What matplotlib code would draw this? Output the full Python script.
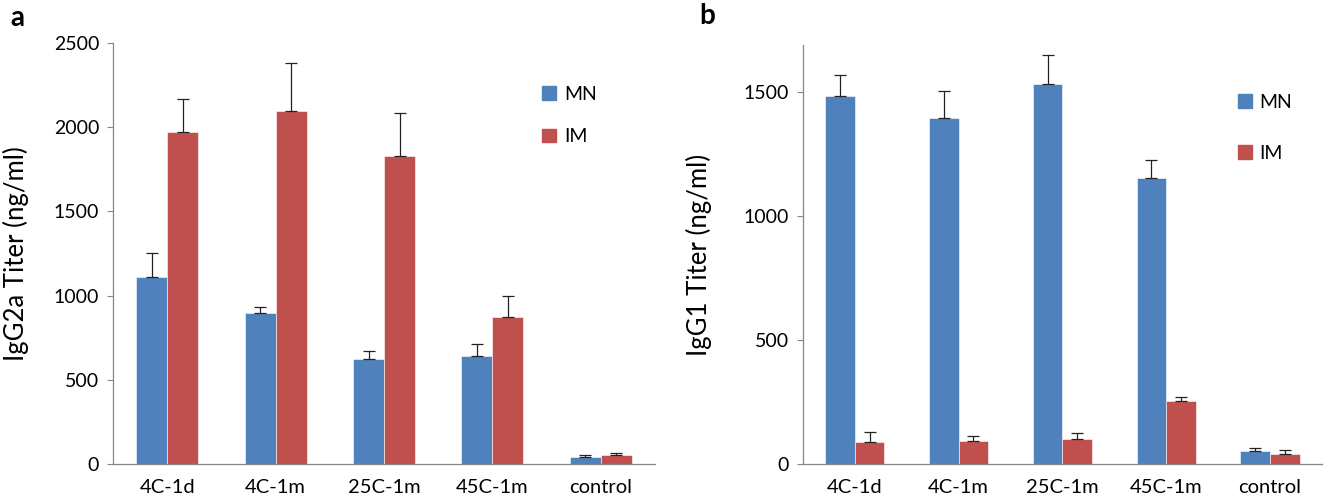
import numpy as np
import matplotlib.pyplot as plt
from matplotlib.patches import Patch

plt.rcParams['font.family'] = ['Lato', 'DejaVu Sans']

# data
groups = ['4C-1d', '4C-1m', '25C-1m', '45C-1m', 'control']

igg2a_mn = [1108, 896, 626, 642, 39]
igg2a_mn_err = [146, 35, 47, 71, 16]
igg2a_im = [1974, 2094, 1827, 876, 55]
igg2a_im_err = [195, 286, 260, 122, 10]

igg1_mn = [1485, 1396, 1533, 1153, 54]
igg1_mn_err = [85, 111, 117, 74, 12]
igg1_im = [90, 94, 102, 255, 39]
igg1_im_err = [38, 20, 21, 17, 16]

blue = '#4F81BD'
red = '#C0504D'
axis_grey = '#868686'
w = 1 / 3.5


def panel(ax, mn, mn_err, im, im_err, ylim, yticks, ylabel, letter, leg_anchor, leg_space):
    x = np.arange(len(groups))
    ax.bar(x - w / 2, mn, w, color=blue, edgecolor='white', linewidth=0.4,
           yerr=[np.zeros(len(mn)), mn_err], capsize=4,
           error_kw=dict(elinewidth=0.9, capthick=0.9, ecolor='#222222'))
    ax.bar(x + w / 2, im, w, color=red, edgecolor='white', linewidth=0.4,
           yerr=[np.zeros(len(im)), im_err], capsize=4,
           error_kw=dict(elinewidth=0.9, capthick=0.9, ecolor='#222222'))
    ax.set_xlim(-0.5, len(groups) - 0.5)
    ax.set_ylim(*ylim)
    ax.set_yticks(yticks)
    ax.set_xticks(x)
    ax.set_xticklabels(groups)
    for s in ['top', 'right']:
        ax.spines[s].set_visible(False)
    for s in ['left', 'bottom']:
        ax.spines[s].set_color(axis_grey)
        ax.spines[s].set_linewidth(0.9)
    ax.tick_params(axis='y', length=4, color=axis_grey, labelsize=14, pad=6)
    ax.tick_params(axis='x', length=0, labelsize=14.5, pad=11)
    ax.set_ylabel(ylabel, fontsize=18.5)
    handles = [Patch(color=blue, label='MN'), Patch(color=red, label='IM')]
    ax.legend(handles=handles, loc='upper left', bbox_to_anchor=leg_anchor,
              frameon=False, fontsize=14, handlelength=0.7, handleheight=0.7,
              handletextpad=0.4, labelspacing=leg_space)
    ax.text(-0.19, 1.09, letter, transform=ax.transAxes, fontsize=20,
            fontweight='bold', va='top', ha='left')


fig = plt.figure(figsize=(13.36, 5.04), dpi=100)
ax1 = fig.add_axes([0.0846, 0.0794, 0.4057, 0.835])
ax2 = fig.add_axes([0.601, 0.0794, 0.3885, 0.831])

panel(ax1, igg2a_mn, igg2a_mn_err, igg2a_im, igg2a_im_err, (0, 2500),
      [0, 500, 1000, 1500, 2000, 2500], 'IgG2a Titer (ng/ml)', 'a', (0.76, 0.94), 1.3)
panel(ax2, igg1_mn, igg1_mn_err, igg1_im, igg1_im_err, (0, 1690),
      [0, 500, 1000, 1500], 'IgG1 Titer (ng/ml)', 'b', (0.805, 0.925), 1.75)

ax1.yaxis.set_label_coords(-0.155, 0.5)
ax2.yaxis.set_label_coords(-0.175, 0.5)
ax2.texts[0].set_position((-0.2, 1.1))

fig.savefig('out.png', dpi=100)
